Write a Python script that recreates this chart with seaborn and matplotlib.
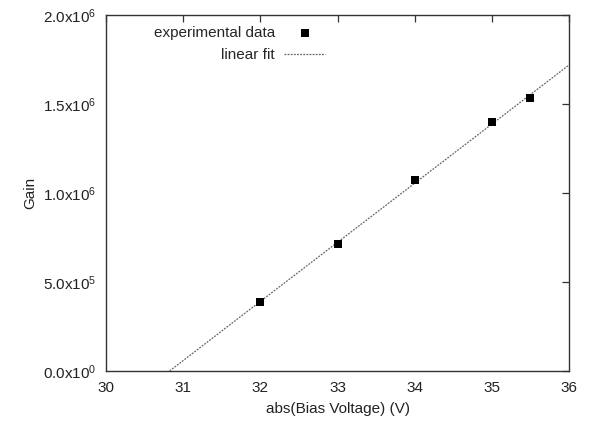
import numpy as np
import pandas as pd
import seaborn as sns
import matplotlib
matplotlib.use('Agg')
import matplotlib.pyplot as plt

# values
voltage = [32.0, 33.0, 34.0, 35.0, 35.5]
gain = [3.88e5, 7.13e5, 1.073e6, 1.40e6, 1.534e6]

x_ticks = [30, 31, 32, 33, 34, 35, 36]
y_ticks = [0, 5e5, 1e6, 1.5e6, 2e6]
y_tick_labels = ['0.0x10$^{0}$', '5.0x10$^{5}$', '1.0x10$^{6}$', '1.5x10$^{6}$', '2.0x10$^{6}$']

sns.set_style('white')
plt.rcParams['font.family'] = ['Liberation Sans', 'DejaVu Sans']
plt.rcParams['mathtext.default'] = 'regular'

df = pd.DataFrame({'voltage': voltage, 'gain': gain})

# linear fit through the measured points
slope, intercept = np.polyfit(voltage, gain, 1)
x0 = -intercept / slope
fit = pd.DataFrame({'voltage': [x0, 36.0]})
fit['gain'] = slope * fit['voltage'] + intercept

fig = plt.figure(figsize=(5.9, 4.22), dpi=100)
ax = fig.add_axes([0.1797, 0.1209, 0.7847, 0.8436])

sns.scatterplot(data=df, x='voltage', y='gain', marker='s', s=38, color='black',
                edgecolor='black', linewidth=0, ax=ax, label='experimental data', zorder=3)
sns.lineplot(data=fit, x='voltage', y='gain', color='#666666', linestyle=(0, (1.5, 1)),
             linewidth=0.9, ax=ax, label='linear fit', zorder=2)

ax.set_xlim(30, 36)
ax.set_ylim(0, 2e6)
ax.set_xticks(x_ticks)
ax.set_xticklabels([str(t) for t in x_ticks])
ax.set_yticks(y_ticks)
ax.set_yticklabels(y_tick_labels)
ax.tick_params(direction='in', length=5, width=0.9, colors='#333333',
               top=True, right=True, labelsize=11, labelcolor='#222222', pad=7)
for s in ax.spines.values():
    s.set_color('#333333')
    s.set_linewidth(1.0)

ax.set_xlabel('abs(Bias Voltage) (V)', fontsize=11, color='#222222', labelpad=5)
ax.set_ylabel('Gain', fontsize=11, color='#222222', labelpad=4)

ax.legend(loc='upper left', bbox_to_anchor=(0.08, 1.0), frameon=False, markerfirst=False,
          fontsize=11, handlelength=2.7, handletextpad=0.6, labelspacing=0.55,
          borderaxespad=0.3)

fig.savefig('out.png', dpi=100)
